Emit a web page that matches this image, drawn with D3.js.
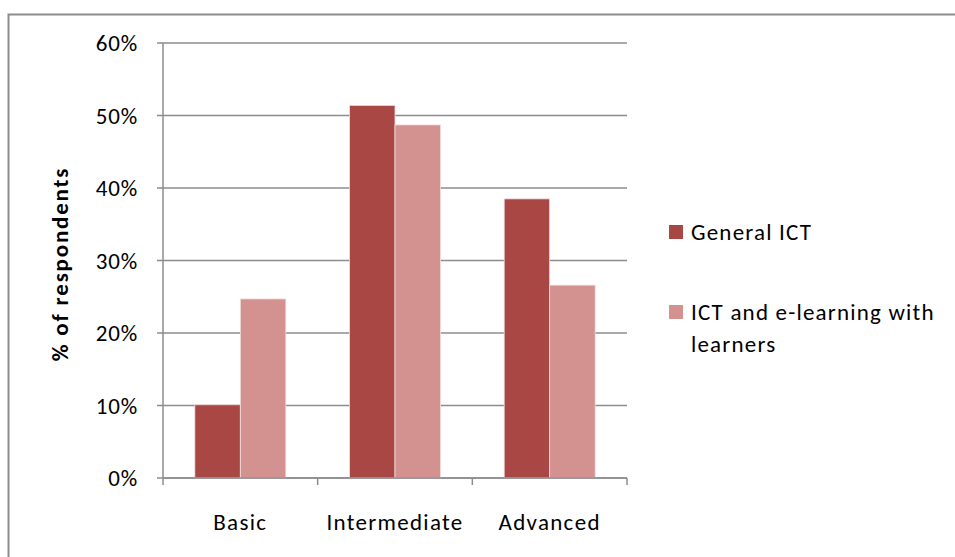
<!DOCTYPE html>
<html>
<head>
<meta charset="utf-8">
<script src="https://cdn.jsdelivr.net/npm/d3@7"></script>
<style>
  body { margin: 0; background: #fff; }
  text { font-family: Calibri, Carlito, "Liberation Sans", Arial, sans-serif; fill: #000; }
</style>
</head>
<body>
<div id="chart"></div>
<script>
let categories = ["Basic", "Intermediate", "Advanced"];
let seriesNames = ["General ICT", "ICT and e-learning with learners"];
let generalICT = [0.101, 0.514, 0.385];
let ictLearners = [0.247, 0.487, 0.266];
let yTicks = [0, 0.1, 0.2, 0.3, 0.4, 0.5, 0.6];
let colors = ["#a94744", "#d39190"];

let W = 955, H = 557;
let margin = {top: 43, left: 163, right: 328, bottom: 79};
let width = W - margin.left - margin.right,
    height = H - margin.top - margin.bottom;

let svg = d3.select("#chart").append("svg")
    .attr("width", W)
    .attr("height", H);

// outer frame
svg.append("rect")
    .attr("x", 8.5).attr("y", 14.5)
    .attr("width", 1000).attr("height", 1000)
    .attr("fill", "none")
    .attr("stroke", "#8c8c8c")
    .attr("stroke-width", 2);

let g = svg.append("g")
    .attr("transform", "translate(" + margin.left + "," + margin.top + ")");

let x0 = d3.scaleBand().domain(categories).range([0, width]);
let bw = x0.bandwidth() / 3.4;

let y = d3.scaleLinear().domain([0, 0.6]).range([height, 0]);

// gridlines
g.append("g").selectAll("line")
    .data(yTicks)
    .enter().append("line")
    .attr("x1", -6).attr("x2", width)
    .attr("y1", d => y(d)).attr("y2", d => y(d))
    .attr("stroke", "#8c8c8c")
    .attr("stroke-width", 1.5);

let data = categories.map((c, i) => ({cat: c, vals: [generalICT[i], ictLearners[i]]}));

let groups = g.selectAll(".grp")
    .data(data)
    .enter().append("g")
    .attr("transform", d => "translate(" + (x0(d.cat) + x0.bandwidth() / 2 - bw) + ",0)");

groups.selectAll("rect")
    .data(d => d.vals)
    .enter().append("rect")
    .attr("x", (d, i) => i * bw)
    .attr("width", bw)
    .attr("y", d => y(d))
    .attr("height", d => height - y(d))
    .attr("fill", (d, i) => colors[i])
    .attr("stroke", "#f3dede")
    .attr("stroke-width", 0.8);

// y axis line
g.append("line")
    .attr("x1", 0).attr("x2", 0)
    .attr("y1", 0).attr("y2", height)
    .attr("stroke", "#8c8c8c").attr("stroke-width", 1.5);

// x axis line with ticks
g.append("line")
    .attr("x1", 0).attr("x2", width)
    .attr("y1", height).attr("y2", height)
    .attr("stroke", "#8c8c8c").attr("stroke-width", 1.5);
let xTickPos = categories.map(c => x0(c)).concat([width]);
g.selectAll(".xt")
    .data(xTickPos)
    .enter().append("line")
    .attr("x1", d => d).attr("x2", d => d)
    .attr("y1", height).attr("y2", height + 7)
    .attr("stroke", "#8c8c8c").attr("stroke-width", 1.5);

// y tick labels
g.selectAll(".yl")
    .data(yTicks)
    .enter().append("text")
    .attr("x", -25)
    .attr("y", d => y(d))
    .attr("dy", "0.35em")
    .attr("text-anchor", "end")
    .style("font-size", "23px")
    .style("letter-spacing", "0.8px")
    .text(d3.format(".0%"));

// category labels
g.selectAll(".xl")
    .data(categories)
    .enter().append("text")
    .attr("x", d => x0(d) + x0.bandwidth() / 2)
    .attr("y", height + 52)
    .attr("text-anchor", "middle")
    .style("font-size", "23px")
    .style("letter-spacing", "1.3px")
    .text(d => d);

// y title
svg.append("text")
    .attr("transform", "translate(68,264) rotate(-90)")
    .attr("text-anchor", "middle")
    .style("font-size", "23px")
    .style("font-weight", "bold")
    .style("letter-spacing", "1.8px")
    .text("% of respondents");

// legend
let legend = svg.append("g").attr("transform", "translate(669,0)");
let legendRows = [[seriesNames[0]], ["ICT and e-learning with", "learners"]];
let legendY = [225, 305];
legendRows.forEach((lines, i) => {
  legend.append("rect")
    .attr("x", 0).attr("y", legendY[i])
    .attr("width", 14).attr("height", 14)
    .attr("fill", colors[i]);
  let t = legend.append("text")
    .attr("x", 22).attr("y", legendY[i] + 15)
    .style("font-size", "23px")
    .style("letter-spacing", "1.2px");
  lines.forEach((l, j) => {
    t.append("tspan").attr("x", 22).attr("dy", j === 0 ? 0 : 32).text(l);
  });
});
</script>
</body>
</html>
